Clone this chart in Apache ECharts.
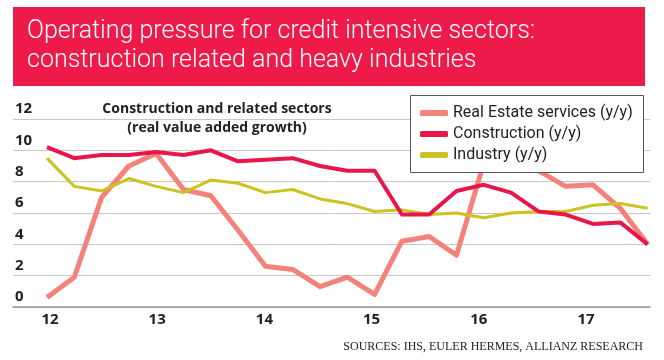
<!DOCTYPE html>
<html>
<head>
<meta charset="utf-8">
<script src="https://cdn.jsdelivr.net/npm/echarts@6/dist/echarts.min.js"></script>
<style>
html,body{margin:0;padding:0;background:#fff;}
#chart{width:664px;height:360px;}
</style>
</head>
<body>
<div id="chart"></div>
<script>
// Quarterly periods, 2012 Q1 to 2017 Q3
const quarters = ['2012Q1','2012Q2','2012Q3','2012Q4','2013Q1','2013Q2','2013Q3','2013Q4',
  '2014Q1','2014Q2','2014Q3','2014Q4','2015Q1','2015Q2','2015Q3','2015Q4',
  '2016Q1','2016Q2','2016Q3','2016Q4','2017Q1','2017Q2','2017Q3'];
const realEstate   = [0.6,1.9,7.0,9.0,9.8,7.5,7.1,4.9,2.6,2.4,1.3,1.9,0.8,4.2,4.5,3.3,9.2,9.3,8.7,7.7,7.8,6.3,4.0];
const construction = [10.2,9.5,9.7,9.7,9.9,9.7,10.0,9.3,9.4,9.5,9.0,8.7,8.7,5.9,5.9,7.4,7.8,7.3,6.1,5.9,5.3,5.4,4.0];
const industry     = [9.5,7.7,7.4,8.2,7.7,7.3,8.1,7.9,7.3,7.5,6.9,6.6,6.1,6.2,5.9,6.0,5.7,6.0,6.1,6.1,6.5,6.6,6.3];
const yearLabels = ['12','13','14','15','16','17'];
const seriesNames = ['Real Estate services (y/y)','Construction (y/y)','Industry (y/y)'];

const chart = echarts.init(document.getElementById('chart'), null, {renderer:'canvas'});
const toPairs = arr => quarters.map((q,i)=>[i, arr[i]]);

const option = {
  animation:false,
  backgroundColor:'#fff',
  title:{
    text:'Operating pressure for credit intensive sectors:\nconstruction related and heavy industries',
    left:22, top:12,
    textStyle:{color:'#fff',fontFamily:'Roboto',fontWeight:300,fontSize:25,lineHeight:29}
  },
  graphic:[
    {type:'rect',z:-1,shape:{x:13,y:7,width:632,height:79},style:{fill:'#EE1A4A'}},
    {type:'rect',z:3,shape:{x:410.5,y:95.5,width:233,height:77},style:{fill:'#fff',stroke:'#555',lineWidth:1}},
    {type:'text',z:3,x:217,y:118.5,style:{text:'Construction and related sectors\n(real value added growth)',
      fill:'#222',font:'bold 14px "Open Sans"',lineHeight:19,align:'center',verticalAlign:'middle'}},
    {type:'text',z:3,x:643,y:347,style:{text:'SOURCES: IHS, EULER HERMES, ALLIANZ RESEARCH',
      fill:'#222',font:'12px "Liberation Serif"',align:'right',verticalAlign:'middle'}}
  ],
  legend:{
    data:seriesNames,
    orient:'vertical',
    left:420, top:104,
    padding:0,
    itemGap:3,
    itemWidth:28, itemHeight:6,
    icon:'roundRect',
    z:5,
    textStyle:{color:'#222',fontFamily:'Roboto',fontSize:16,lineHeight:18}
  },
  grid:{left:13,right:14,top:119,bottom:53,containLabel:false},
  xAxis:[
    {type:'value',min:-1.245,max:22.088,position:'bottom',
      axisLine:{show:true,lineStyle:{color:'#999',width:1.5}},
      axisTick:{show:false},axisLabel:{show:false},splitLine:{show:false}},
    {type:'value',min:11.655,max:17.597,position:'bottom',offset:0,
      axisLine:{show:false},axisTick:{show:false},splitLine:{show:false},
      axisLabel:{show:true,customValues:yearLabels.map(Number),margin:5,
        color:'#222',fontFamily:'Open Sans',fontWeight:'bold',fontSize:15,
        formatter:v=>String(v)}}
  ],
  yAxis:{
    type:'value',min:0,max:12,interval:2,
    axisLine:{show:false},axisTick:{show:false},
    splitLine:{show:true,lineStyle:{color:'#c8c8c8',width:1}},
    axisLabel:{inside:true,margin:2,verticalAlign:'bottom',lineHeight:18,padding:[0,0,1,0],
      color:'#222',fontFamily:'Open Sans',fontWeight:'bold',fontSize:15}
  },
  series:[
    {name:seriesNames[0],type:'line',xAxisIndex:0,data:toPairs(realEstate),symbol:'none',
      lineStyle:{color:'#F3837A',width:5,join:'round'},itemStyle:{color:'#F3837A'},z:2},
    {name:seriesNames[2],type:'line',xAxisIndex:0,data:toPairs(industry),symbol:'none',
      lineStyle:{color:'#CCC320',width:3,join:'round'},itemStyle:{color:'#CCC320'},z:2},
    {name:seriesNames[1],type:'line',xAxisIndex:0,data:toPairs(construction),symbol:'none',
      lineStyle:{color:'#E8164A',width:4,join:'round'},itemStyle:{color:'#E8164A'},z:2}
  ]
};
chart.setOption(option);
</script>
</body>
</html>
